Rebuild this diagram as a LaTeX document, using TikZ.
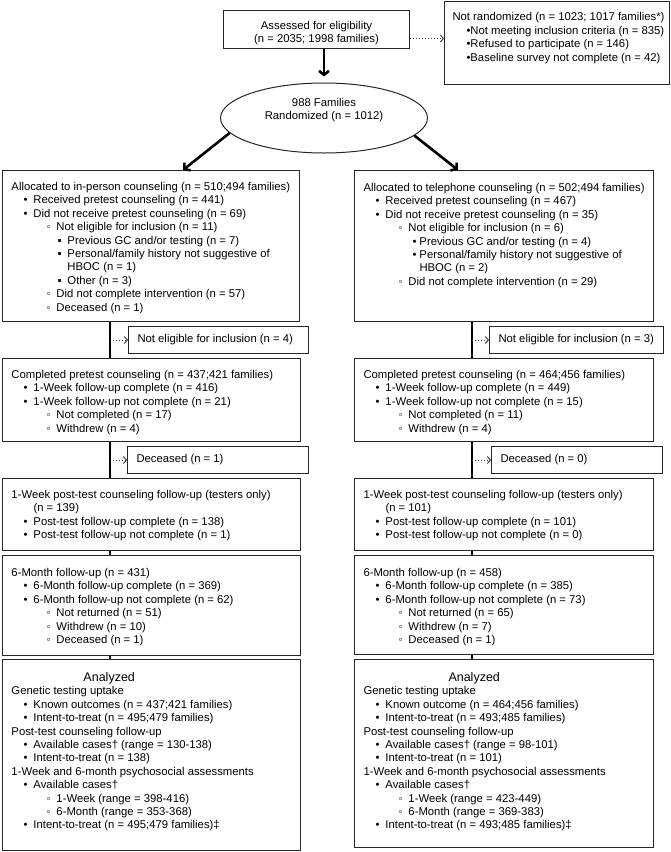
\documentclass[tikz,border=0pt]{standalone}
\usepackage{fontspec}
\setmainfont{Liberation Sans}
\usetikzlibrary{shapes.geometric,arrows.meta}

% text of a box: width, height, first baseline, lines
\newcommand{\boxtext}[4]{\parbox[t][#2][t]{#1}{\leftskip=9pt\rule{0pt}{#3}#4}}
% list levels
\newcommand{\bulA}{\hspace*{12pt}\makebox[10pt][l]{\textbullet}}
\newcommand{\bulB}{\hspace*{35pt}\makebox[10pt][l]{◦}}
\newcommand{\bulC}{\hspace*{46pt}\makebox[10pt][l]{▪}}
\newcommand{\bulD}{\hspace*{49pt}\makebox[7pt][l]{\textbullet}}

\begin{document}
\begin{tikzpicture}[x=1pt,y=-1pt,
  font=\fontsize{11.3}{13.4}\selectfont,
  box/.style={draw=black!85, line width=1pt, anchor=north west, inner sep=0pt},
  bigarrow/.style={line width=2.6pt, -{Straight Barb[length=4pt,width=10pt]}},
  vline/.style={line width=2.6pt},
  dotarrow/.style={dotted, line width=1pt, black!75, -{Straight Barb[length=3pt,width=7pt]}}]
  \useasboundingbox (0,0) rectangle (670,852);

  % enrollment
  \node[box] (assess) at (223,10) {\parbox[t][38pt][t]{186pt}{\centering\rule{0pt}{19pt}Assessed for eligibility\\(n = 2035; 1998 families)}};
  \node[box] (notrand) at (444,1) {\boxtext{225pt}{83pt}{19pt}{\fontsize{11.3}{13.6}\selectfont
    \mbox{\hspace*{-1pt}Not randomized (n = 1023; 1017 families*)}\\
    \hspace*{13pt}\textbullet Not meeting inclusion criteria (n = 835)\\
    \hspace*{13pt}\textbullet Refused to participate (n = 146)\\
    \hspace*{13pt}\textbullet Baseline survey not complete (n = 42)}};
  \node[draw=black!85, line width=1pt, ellipse, minimum width=207pt, minimum height=70pt, inner sep=0pt] (rand) at (324,118) {};
  \node[align=center] (randtxt) at (324,110) {988 Families\\Randomized (n = 1012)};

  % vertical lines of the two arms
  \coordinate (lx) at (110,0);
  \coordinate (rx) at (472,0);

  % allocation
  \node[box] (inperson) at (2,170) {\boxtext{297pt}{151pt}{20pt}{%
    Allocated to in-person counseling (n = 510;494 families)\\
    \bulA Received pretest counseling (n = 441)\\
    \bulA Did not receive pretest counseling (n = 69)\\
    \bulB Not eligible for inclusion (n = 11)\\
    \bulC Previous GC and/or testing (n = 7)\\
    \bulC Personal/family history not suggestive of\\
    \hspace*{56pt}HBOC (n = 1)\\
    \bulC Other (n = 3)\\
    \bulB Did not complete intervention (n = 57)\\
    \bulB Deceased (n = 1)}};
  \node[box] (phone) at (354,170) {\boxtext{299pt}{151pt}{21pt}{%
    Allocated to telephone counseling (n = 502;494 families)\\
    \bulA Received pretest counseling (n = 467)\\
    \bulA Did not receive pretest counseling (n = 35)\\
    \bulB Not eligible for inclusion (n = 6)\\
    \bulD Previous GC and/or testing (n = 4)\\
    \bulD Personal/family history not suggestive of\\
    \hspace*{56pt}HBOC (n = 2)\\
    \bulB Did not complete intervention (n = 29)}};

  \node[box] (noelig1) at (128,326) {\boxtext{180pt}{27pt}{16pt}{Not eligible for inclusion (n = 4)}};
  \node[box] (noelig2) at (489,326) {\boxtext{174pt}{27pt}{16pt}{Not eligible for inclusion (n = 3)}};

  % pretest counseling
  \node[box] (pretest1) at (2,358) {\boxtext{298pt}{83pt}{20pt}{%
    Completed pretest counseling (n = 437;421 families)\\
    \bulA 1-Week follow-up complete (n = 416)\\
    \bulA 1-Week follow-up not complete (n = 21)\\
    \bulB Not completed (n = 17)\\
    \bulB Withdrew (n = 4)}};
  \node[box] (pretest2) at (354,358) {\boxtext{299pt}{83pt}{20pt}{%
    Completed pretest counseling (n = 464;456 families)\\
    \bulA 1-Week follow-up complete (n = 449)\\
    \bulA 1-Week follow-up not complete (n = 15)\\
    \bulB Not completed (n = 11)\\
    \bulB Withdrew (n = 4)}};

  \node[box] (dec1) at (127,446) {\boxtext{181pt}{27pt}{16pt}{Deceased (n = 1)}};
  \node[box] (dec2) at (491,446) {\boxtext{171pt}{27pt}{16pt}{Deceased (n = 0)}};

  % post-test follow-up
  \node[box] (post1) at (2,478) {\boxtext{298pt}{72pt}{20pt}{%
    1-Week post-test counseling follow-up (testers only)\\
    \hspace*{22pt}(n = 139)\\
    \bulA Post-test follow-up complete (n = 138)\\
    \bulA Post-test follow-up not complete (n = 1)}};
  \node[box] (post2) at (354,478) {\boxtext{299pt}{72pt}{20pt}{%
    1-Week post-test counseling follow-up (testers only)\\
    \hspace*{22pt}(n = 101)\\
    \bulA Post-test follow-up complete (n = 101)\\
    \bulA Post-test follow-up not complete (n = 0)}};

  % 6-month follow-up
  \node[box] (month1) at (2,555) {\boxtext{298pt}{100pt}{21pt}{%
    6-Month follow-up (n = 431)\\
    \bulA 6-Month follow-up complete (n = 369)\\
    \bulA 6-Month follow-up not complete (n = 62)\\
    \bulB Not returned (n = 51)\\
    \bulB Withdrew (n = 10)\\
    \bulB Deceased (n = 1)}};
  \node[box] (month2) at (354,555) {\boxtext{299pt}{99pt}{21pt}{%
    6-Month follow-up (n = 458)\\
    \bulA 6-Month follow-up complete (n = 385)\\
    \bulA 6-Month follow-up not complete (n = 73)\\
    \bulB Not returned (n = 65)\\
    \bulB Withdrew (n = 7)\\
    \bulB Deceased (n = 1)}};

  % analysis
  \node[box] (analyzed1) at (2,659) {\boxtext{298pt}{191pt}{22pt}{%
    \hspace*{72pt}{\fontsize{12.5}{13.4}\selectfont Analyzed}\\
    Genetic testing uptake\\
    \bulA Known outcomes (n = 437;421 families)\\
    \bulA Intent-to-treat (n = 495;479 families)\\
    Post-test counseling follow-up\\
    \bulA Available cases† (range = 130-138)\\
    \bulA Intent-to-treat (n = 138)\\
    1-Week and 6-month psychosocial assessments\\
    \bulA Available cases†\\
    \bulB 1-Week (range = 398-416)\\
    \bulB 6-Month (range = 353-368)\\
    \bulA Intent-to-treat (n = 495;479 families)‡}};
  \node[box] (analyzed2) at (354,659) {\boxtext{299pt}{188pt}{22pt}{%
    \hspace*{85pt}{\fontsize{12.5}{13.4}\selectfont Analyzed}\\
    Genetic testing uptake\\
    \bulA Known outcome (n = 464;456 families)\\
    \bulA Intent-to-treat (n = 493;485 families)\\
    Post-test counseling follow-up\\
    \bulA Available cases† (range = 98-101)\\
    \bulA Intent-to-treat (n = 101)\\
    1-Week and 6-month psychosocial assessments\\
    \bulA Available cases†\\
    \bulB 1-Week (range = 423-449)\\
    \bulB 6-Month (range = 369-383)\\
    \bulA Intent-to-treat (n = 493;485 families)‡}};

  % arrows from the top
  \coordinate (dA) at ([yshift=-9pt]assess.east);
  \draw[dotarrow] (dA) -- (dA -| notrand.west);
  \draw[bigarrow, shorten >=6pt] (assess.south -| rand.north) -- (rand.north);
  \draw[bigarrow] (rand.189) -- ([xshift=181pt]inperson.north west);
  \draw[bigarrow] (rand.349) -- ([xshift=104pt]phone.north west);

  % left arm
  \draw[vline] (inperson.south -| lx) -- (pretest1.north -| lx);
  \draw[dotarrow] (noelig1.west -| lx) -- (noelig1.west);
  \draw[vline] (pretest1.south -| lx) -- (post1.north -| lx);
  \draw[dotarrow] (dec1.west -| lx) -- (dec1.west);
  \draw[vline] (post1.south -| lx) -- (month1.north -| lx);
  \draw[vline] (month1.south -| lx) -- (analyzed1.north -| lx);

  % right arm
  \draw[vline] (phone.south -| rx) -- (pretest2.north -| rx);
  \draw[dotarrow] (noelig2.west -| rx) -- (noelig2.west);
  \draw[vline] (pretest2.south -| rx) -- (post2.north -| rx);
  \draw[dotarrow] (dec2.west -| rx) -- (dec2.west);
  \draw[vline] (post2.south -| rx) -- (month2.north -| rx);
  \draw[vline] (month2.south -| rx) -- (analyzed2.north -| rx);
\end{tikzpicture}
\end{document}
